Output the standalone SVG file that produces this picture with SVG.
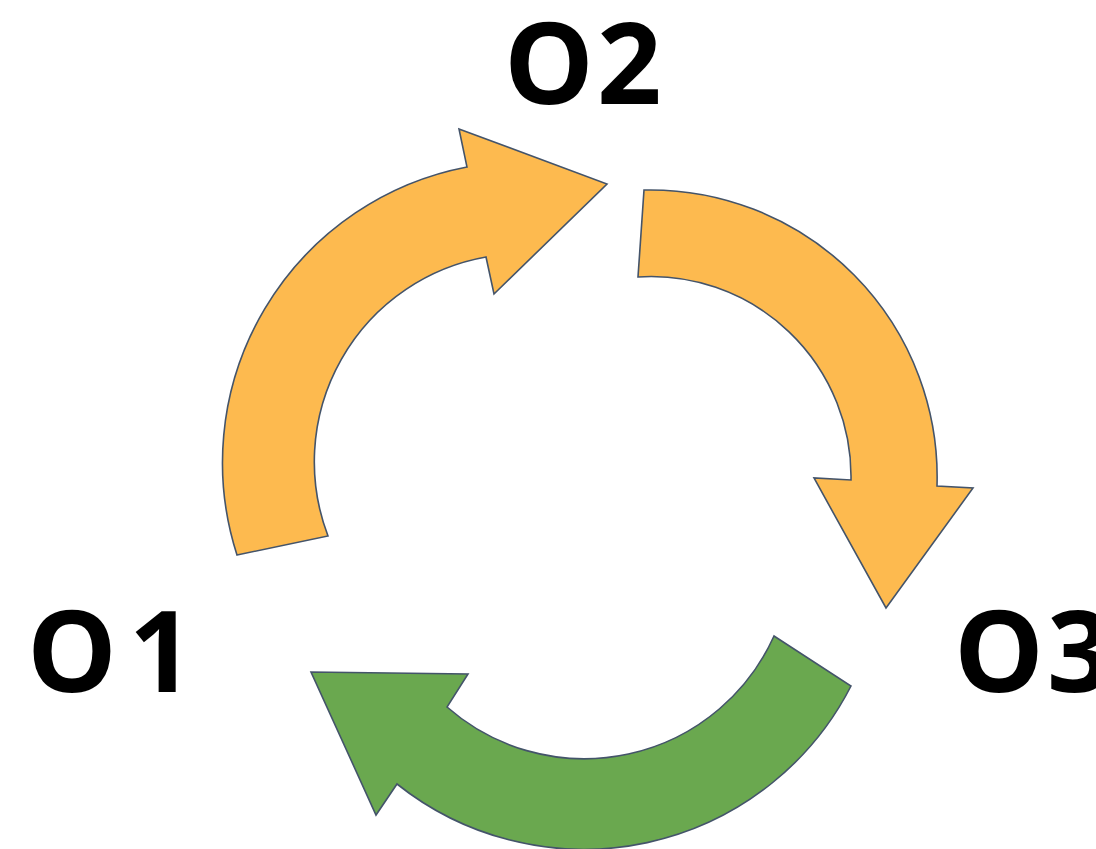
<svg xmlns="http://www.w3.org/2000/svg" width="1096" height="849" viewBox="0 0 1096 849">
<style>
.orange{fill:#FDBA4F;stroke:#44546A;stroke-width:1.6;stroke-linejoin:miter}
.green{fill:#6AA84F;stroke:#44546A;stroke-width:1.6;stroke-linejoin:miter}
.lbl{font-family:"Open Sans","Liberation Sans",sans-serif;font-weight:700;font-size:113px;fill:#000}
</style>
<rect width="1096" height="849" fill="#fff"/>
<g id="connectors">
<path id="arrow-o1-o2" class="orange" d="M237,555 L328,536 A208,208 0 0 1 486,257 L494,294 L607,184 L459,129 L467,167 A301,301 0 0 0 237,555 Z"/>
<path id="arrow-o2-o3" class="orange" d="M644,190 A287,287 0 0 1 937,486 L973,488 L886,608 L814,478 L851,480 A200,200 0 0 0 638,277 Z"/>
<path id="arrow-o3-o1" class="green" d="M851,686 A300,300 0 0 1 397,784 L376,815 L311,672 L468,674 L447,707 A208,208 0 0 0 774,636 Z"/>
</g>
<g id="node-o1"><text class="lbl" x="27" y="692" letter-spacing="12">O1</text></g>
<g id="node-o2"><text class="lbl" x="504" y="104" letter-spacing="3">O2</text></g>
<g id="node-o3"><text class="lbl" x="954" y="692" letter-spacing="3">O3</text></g>
</svg>
